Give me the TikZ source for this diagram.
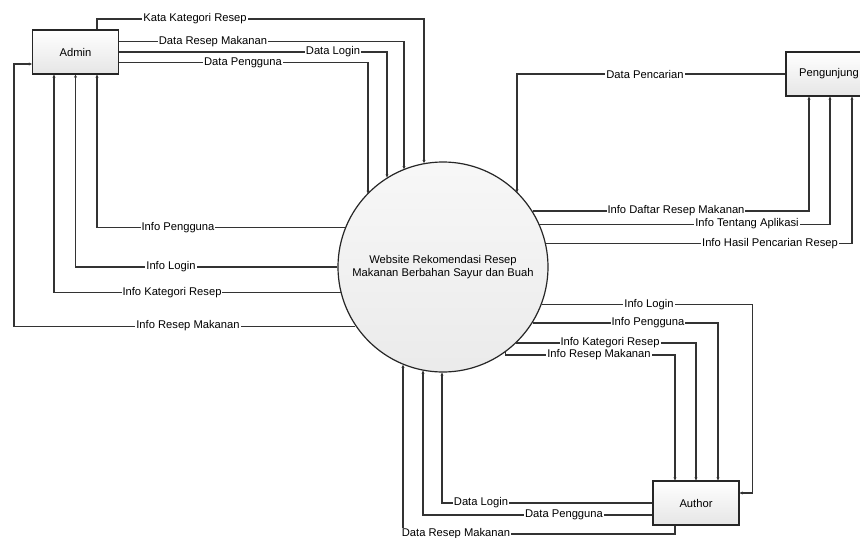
\documentclass[tikz,border=0pt]{standalone}
\usepackage{fontspec}
\setmainfont{Liberation Sans}
\usetikzlibrary{arrows.meta}

\begin{document}
\begin{tikzpicture}[x=1pt,y=-1pt,
        font=\fontsize{11.2}{13.5}\selectfont,
        entity/.style={draw=black!85,line width=1.3pt,top color=white,bottom color=black!10,
            minimum width=86pt,minimum height=44pt,inner sep=0pt},
        proses/.style={circle,draw=black!85,line width=1.2pt,top color=black!3,bottom color=black!8,
            minimum size=210pt,inner sep=0pt,align=center},
        flow/.style={draw=black!80,line width=1.1pt,-{Stealth[length=3pt,width=3pt]}},
        lbl/.style={fill=white,inner sep=1pt}
    ]
    \useasboundingbox (0,0) rectangle (860,538);

    % entitas dan proses
    \node[entity] (admin) at (75.5,52) {Admin};
    \node[entity] (peng) at (829,74) {Pengunjung};
    \node[entity] (author) at (696,503) {Author};
    \node[proses] (web) at (443,267) {Website Rekomendasi Resep\\Makanan Berbahan Sayur dan Buah};

    % admin -> sistem
    \draw[flow] ([xshift=21.5pt]admin.north) |- (195,19) node[lbl]{Kata Kategori Resep} -- (424,19) -- (web.100 -| 424,0);
    \draw[flow] (admin.east |- 0,41.5) -- (213,41.5) node[lbl]{Data Resep Makanan} -- (404,41.5) -- (web.112 -| 404,0);
    \draw[flow] (admin.east |- 0,52) -- (333,52) node[lbl]{Data Login} -- (387,52) -- (web.122 -| 387,0);
    \draw[flow] (admin.east |- 0,62.5) -- (243,62.5) node[lbl]{Data Pengguna} -- (368,62.5) -- (web.136 -| 368,0);

    % sistem -> admin
    \draw[flow] (web.158) -- (web.158 -| 178,0) node[lbl]{Info Pengguna} -| ([xshift=21.5pt]admin.south);
    \draw[flow] (web.west) -- (web.west -| 171,0) node[lbl]{Info Login} -| (admin.south);
    \draw[flow] (web.194) -- (web.194 -| 172,0) node[lbl]{Info Kategori Resep} -| ([xshift=-21.5pt]admin.south);
    \draw[flow] (web.214) -- (web.214 -| 188,0) node[lbl]{Info Resep Makanan} -- (web.214 -| 14,0) |- ([yshift=-12pt]admin.west);

    % pengunjung
    \draw[flow] (peng.west) -- (645,74) node[lbl]{Data Pencarian} -| (web.45 -| 517,0);
    \draw[flow] (web.32) -- (web.32 -| 676,0) node[lbl]{Info Daftar Resep Makanan} -| ([xshift=-20pt]peng.south);
    \draw[flow] (web.24) -- (web.24 -| 747,0) node[lbl]{Info Tentang Aplikasi} -| ([xshift=1pt]peng.south);
    \draw[flow] (web.13) -- (web.13 -| 770,0) node[lbl]{Info Hasil Pencarian Resep} -| ([xshift=23pt]peng.south);

    % sistem -> author
    \draw[flow] (web.-21) -- (web.-21 -| 649,0) node[lbl]{Info Login} -| ([xshift=13pt,yshift=10pt]author.east) -- ([yshift=10pt]author.east);
    \draw[flow] (web.-32) -- (web.-32 -| 648,0) node[lbl]{Info Pengguna} -| ([xshift=22pt]author.north);
    \draw[flow] (web.-46) -- (web.-46 -| 610,0) node[lbl]{Info Kategori Resep} -| (author.north);
    \draw[flow] (web.-54) |- (599,355) node[lbl]{Info Resep Makanan} -| ([xshift=-21pt]author.north);

    % author -> sistem
    \draw[flow] (author.west) -- (481,503) node[lbl]{Data Login} -| (web.south -| 442,0);
    \draw[flow] ([yshift=-12pt]author.west) -- (564,515) node[lbl]{Data Pengguna} -| (web.-101 -| 423,0);
    \draw[flow] ([xshift=-21pt]author.south) |- (456,534) node[lbl]{Data Resep Makanan} -| (web.-112 -| 403,0);
\end{tikzpicture}
\end{document}
